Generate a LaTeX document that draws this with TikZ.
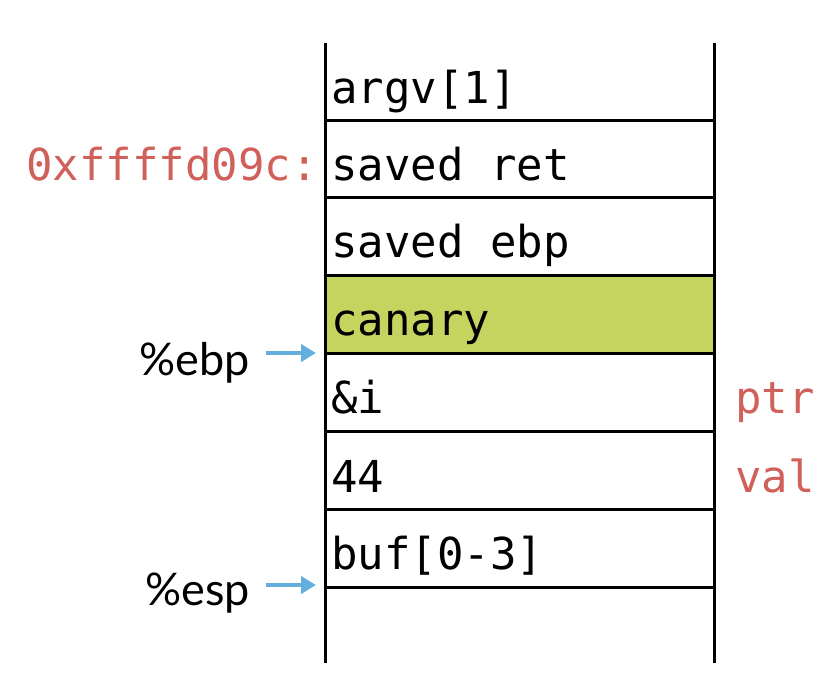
\documentclass[tikz,border=0pt]{standalone}
\usepackage{fontspec}
\setmainfont{Lato}
\newfontfamily\monof{DejaVu Sans Mono}
\usetikzlibrary{arrows.meta}
\definecolor{redl}{HTML}{D0605A}
\definecolor{canaryc}{HTML}{C5D45F}
\definecolor{arrb}{HTML}{62AEDD}
\tikzset{
  rule/.style={line width=3pt, black},
  cell/.style={anchor=base west, inner sep=0pt, font=\monof\fontsize{44}{50}\selectfont},
  note/.style={inner sep=0pt, text=redl, font=\monof\fontsize{44}{50}\selectfont},
  reg/.style={anchor=base east, inner sep=0pt, font=\fontsize{45}{50}\selectfont},
  ptrarrow/.style={draw=arrb, line width=4pt, -{Triangle[length=15pt,width=17pt]}, shorten >=0pt}
}
\begin{document}
\begin{tikzpicture}[x=1pt,y=-1pt]
\useasboundingbox (0,0) rectangle (840,694);
\fill[canaryc] (325,275) rectangle (714,353);
\draw[rule] (325,43) -- (325,663);
\draw[rule] (714,43) -- (714,663);
\foreach \yy in {120,197.5,275,353,431,509,587}
  \draw[rule] (325,\yy) -- (714,\yy);
\node[cell] (argv) at (331,103) {argv[1]};
\node[cell] (sret) at (331,180) {saved ret};
\node[cell] (sebp) at (331,257) {saved ebp};
\node[cell] (can) at (331,335) {canary};
\node[cell] (addri) at (331,413) {\&i};
\node[cell] (val44) at (331,492) {44};
\node[cell] (buf) at (331,569) {buf[0-3]};
\node[note, anchor=base east] (addr) at (318,180) {0xffffd09c:};
\node[note, anchor=base west] (ptr) at (735,413) {ptr};
\node[note, anchor=base west] (val) at (735,492) {val};
\node[reg] (ebp) at (250,375) {\%ebp};
\node[reg] (esp) at (250,605) {\%esp};
\coordinate (ebpS) at (266,353);
\coordinate (ebpT) at (316,353);
\coordinate (espS) at (266,585);
\coordinate (espT) at (316,585);
\draw[ptrarrow] (ebpS) -- (ebpT);
\draw[ptrarrow] (espS) -- (espT);
\end{tikzpicture}
\end{document}
